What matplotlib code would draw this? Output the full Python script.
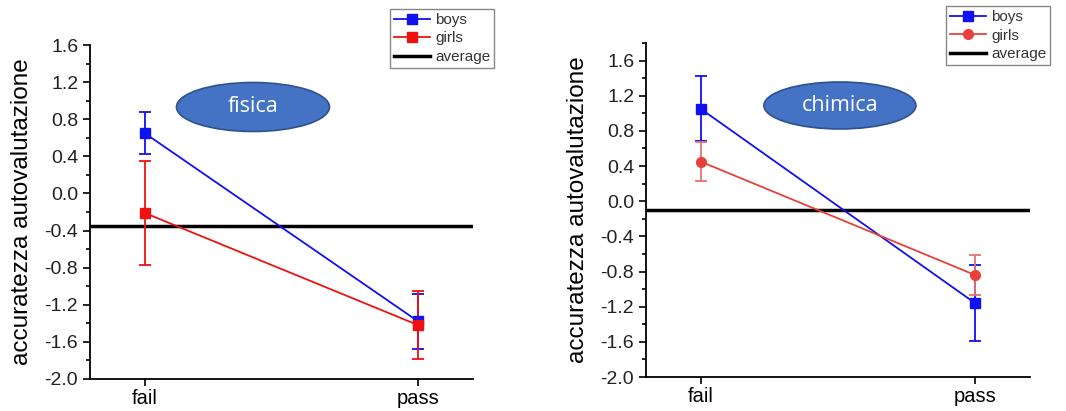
import matplotlib
matplotlib.use("Agg")
import matplotlib.pyplot as plt
from matplotlib.patches import Ellipse
from matplotlib.ticker import MultipleLocator
import numpy as np

plt.rcParams['font.family'] = ['Liberation Sans', 'DejaVu Sans']

groups = ['fail', 'pass']

# fisica
fis_boys = [0.65, -1.38]
fis_boys_err = [0.23, 0.30]
fis_girls = [-0.21, -1.42]
fis_girls_err = [0.565, 0.365]
fis_avg = -0.35

# chimica
chi_boys = [1.05, -1.16]
chi_boys_err = [0.37, 0.435]
chi_girls = [0.45, -0.84]
chi_girls_err = [0.225, 0.225]
chi_avg = -0.10

yticks = [-2.0, -1.6, -1.2, -0.8, -0.4, 0.0, 0.4, 0.8, 1.2, 1.6]

fig = plt.figure(figsize=(10.66, 4.11), dpi=100)
ax1 = fig.add_axes([0.0844, 0.0779, 0.3593, 0.8126])
ax2 = fig.add_axes([0.6060, 0.0827, 0.3602, 0.8127])

x = np.arange(len(groups))


def panel(ax, boys, boys_err, girls, girls_err, avg, girl_col, girl_err_col,
          girl_marker, ytop, subject, ell_xy, ell_wh, leg_anchor):
    lb, = ax.plot(x, boys, color='#1010f0', lw=1.3, marker='s', ms=7,
                  label='boys', zorder=4)
    ax.errorbar(x, boys, yerr=boys_err, fmt='none', ecolor='#1010f0',
                elinewidth=1.3, capsize=4, capthick=1.3, zorder=3)
    lg, = ax.plot(x, girls, color=girl_col, lw=1.3, marker=girl_marker, ms=7,
                  label='girls', zorder=4)
    ax.errorbar(x, girls, yerr=girls_err, fmt='none', ecolor=girl_err_col,
                elinewidth=1.3, capsize=4, capthick=1.3, zorder=3)
    la = ax.axhline(avg, color='black', lw=2.5, label='average', zorder=2)

    ax.set_xlim(-0.2, 1.2)
    ax.set_ylim(-2.0, ytop)
    ax.set_xticks(x)
    ax.set_xticklabels(groups, fontsize=14.5)
    ax.yaxis.set_minor_locator(MultipleLocator(0.2))
    ax.set_yticks(yticks)
    ax.set_yticklabels(['%.1f' % v for v in yticks], fontsize=14,
                       color='#222222')
    ax.tick_params(axis='both', direction='out', length=5, width=1.2)
    ax.tick_params(axis='y', which='minor', length=3, width=1.2)
    ax.tick_params(axis='x', pad=2)
    for s in ['top', 'right']:
        ax.spines[s].set_visible(False)
    for s in ['left', 'bottom']:
        ax.spines[s].set_linewidth(1.3)
    ax.set_ylabel('accuratezza autovalutazione', fontsize=17.5, labelpad=8)

    ell = Ellipse(ell_xy, ell_wh[0], ell_wh[1], transform=ax.transAxes,
                  facecolor='#4472C4', edgecolor='#2F528F', lw=1.2, zorder=5)
    ax.add_patch(ell)
    ax.text(ell_xy[0], ell_xy[1], subject, transform=ax.transAxes,
            ha='center', va='center', color='white', fontsize=15.5,
            family=['Open Sans', 'DejaVu Sans'], zorder=6)

    leg = fig.legend(handles=[lb, lg, la], loc='upper right',
                     bbox_to_anchor=leg_anchor, fontsize=11,
                     fancybox=False, edgecolor='#888888', framealpha=1,
                     handlelength=2.4, handletextpad=0.3, borderpad=0.25,
                     labelspacing=0.3, borderaxespad=0)
    leg.get_frame().set_linewidth(1.0)
    for t in leg.get_texts():
        t.set_color('#333333')


panel(ax1, fis_boys, fis_boys_err, fis_girls, fis_girls_err, fis_avg,
      '#ee1111', '#ee1111', 's', 1.6, 'fisica',
      (0.4256, 0.8144), (0.3995, 0.1467), (0.4634, 0.978))
panel(ax2, chi_boys, chi_boys_err, chi_girls, chi_girls_err, chi_avg,
      '#e8403a', '#e87070', 'o', 1.8, 'chimica',
      (0.505, 0.8129), (0.396, 0.1407), (0.985, 0.985))

fig.savefig('out.png', dpi=100)
